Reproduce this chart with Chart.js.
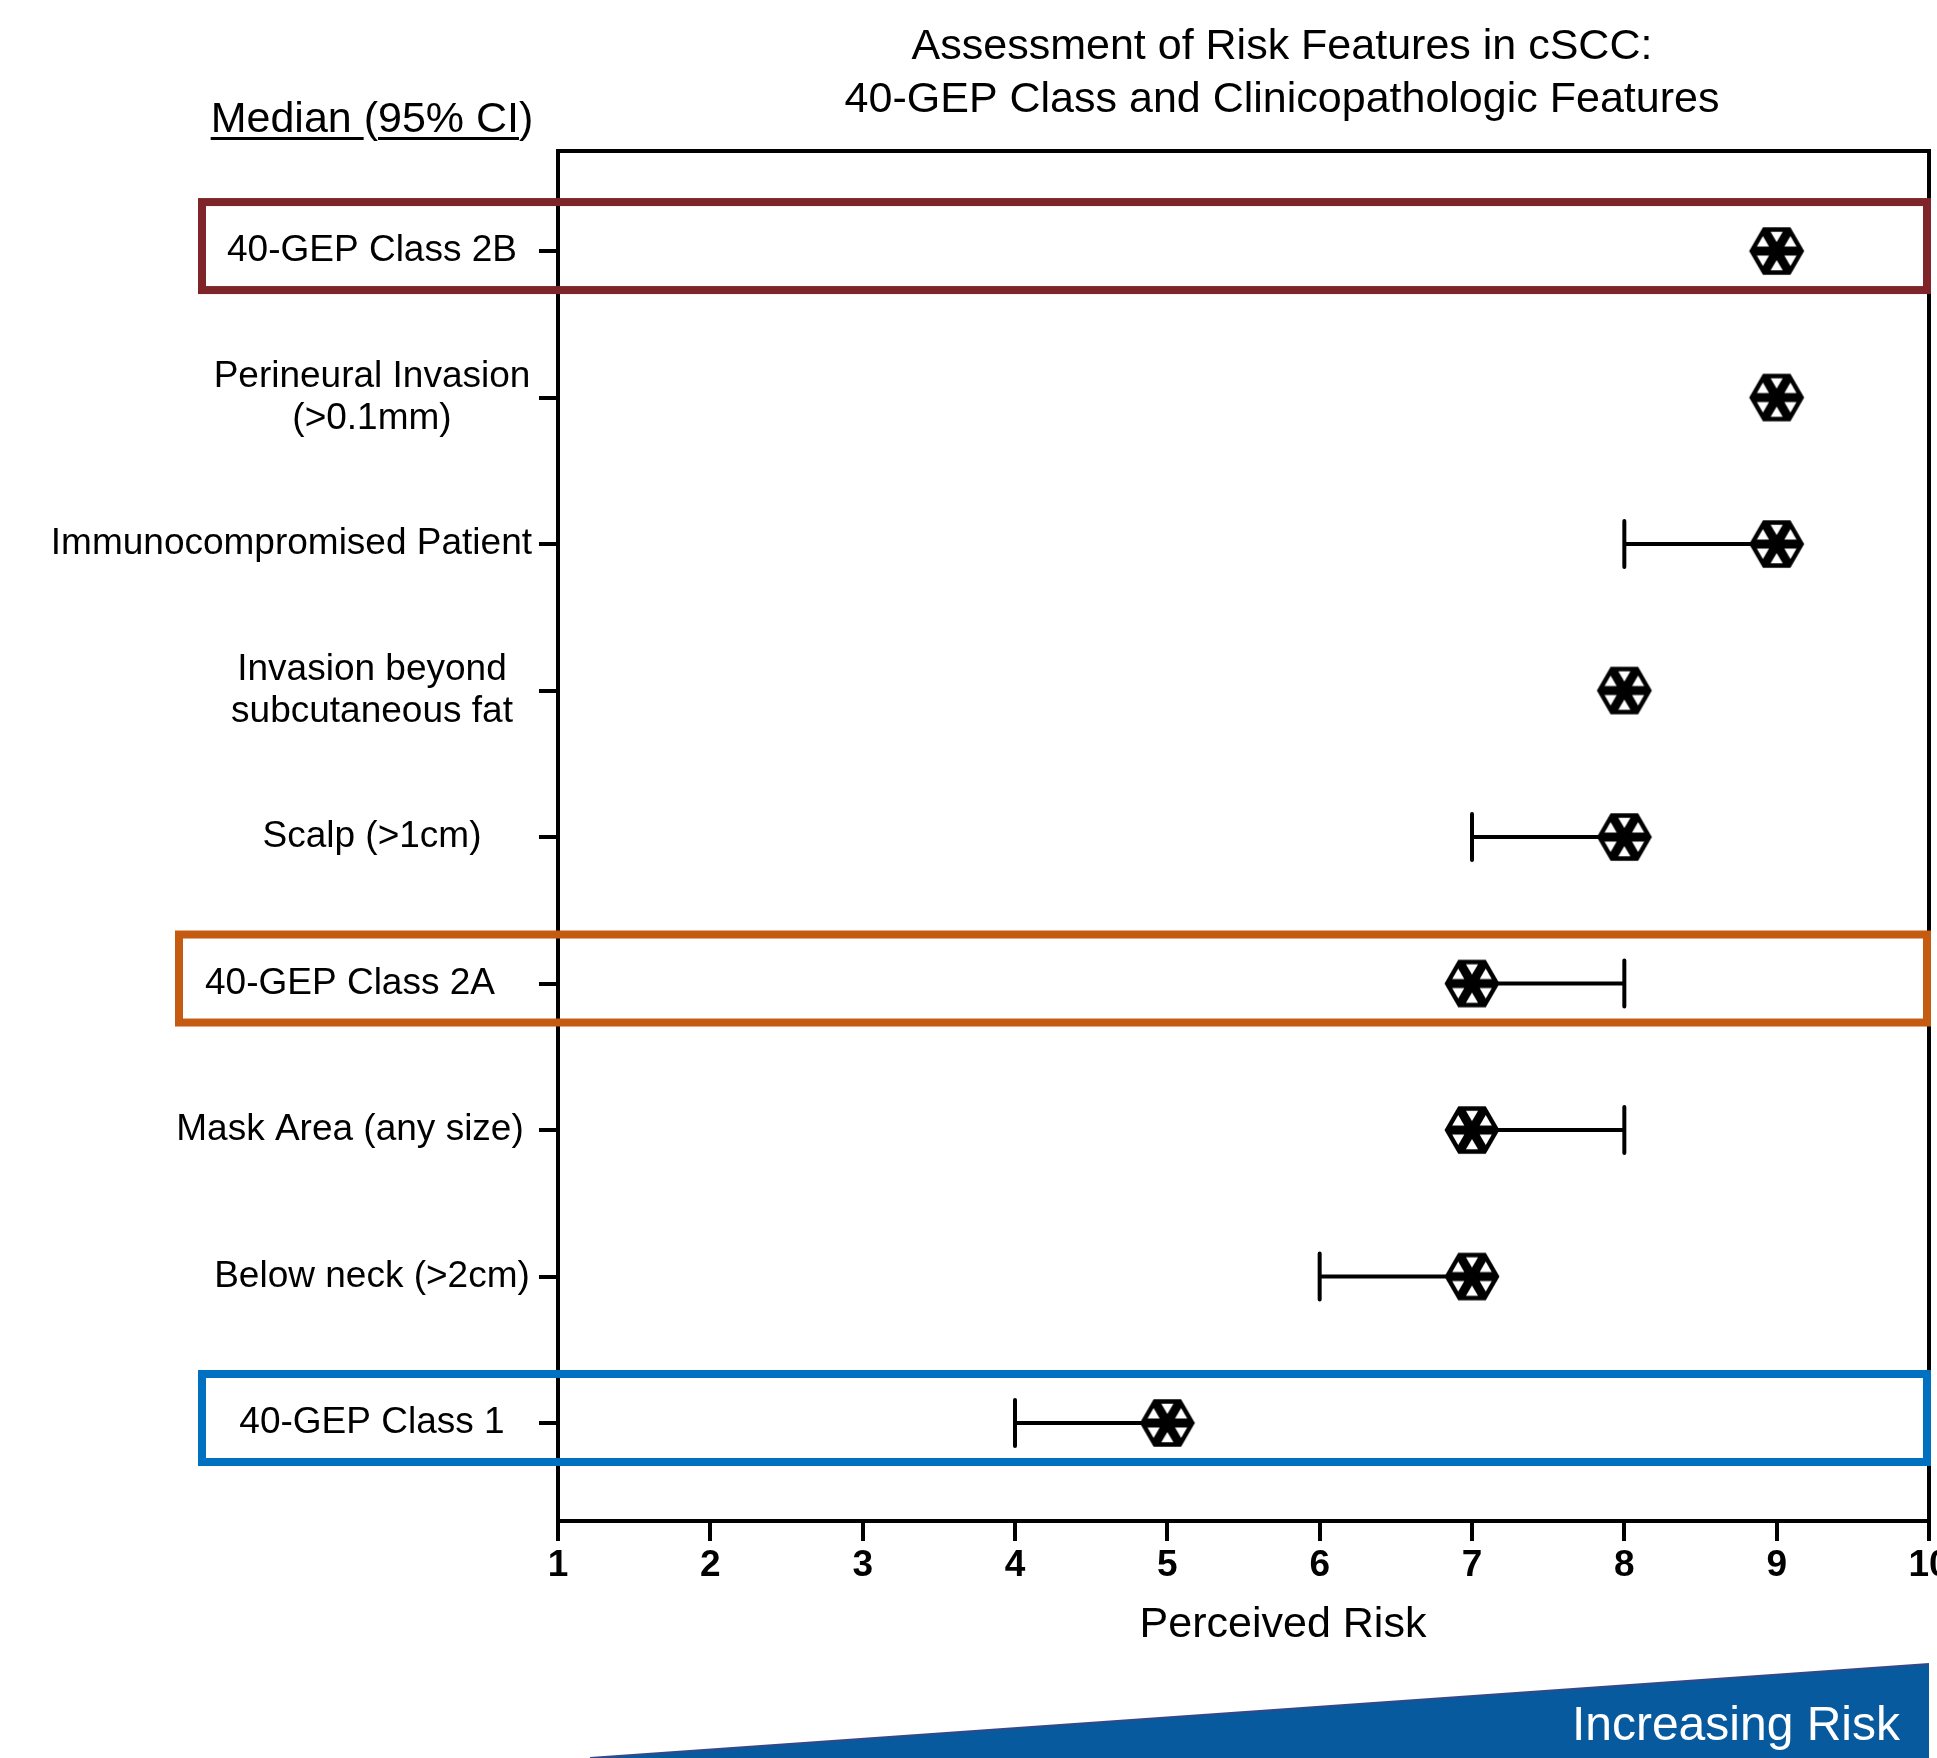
<!DOCTYPE html>
<html lang="en">
<head>
  <meta charset="UTF-8">
  <title>Assessment of Risk Features in cSCC</title>
  <script src="https://cdn.jsdelivr.net/npm/chart.js"></script>
  <style>
    html, body { margin: 0; padding: 0; background: #fff; }
    #chart-container { width: 1937px; height: 1758px; }
  </style>
</head>
<body>
  <div id="chart-container">
    <canvas id="riskChart" width="1937" height="1758"></canvas>
  </div>

  <script>
  // Rows, top to bottom
  const features = [
    ['40-GEP Class 2B'],
    ['Perineural Invasion', '(>0.1mm)'],
    ['Immunocompromised Patient'],
    ['Invasion beyond', 'subcutaneous fat'],
    ['Scalp (>1cm)'],
    ['40-GEP Class 2A'],
    ['Mask Area (any size)'],
    ['Below neck (>2cm)'],
    ['40-GEP Class 1']
  ];
  const medians = [9, 9, 9, 8, 8, 7, 7, 7, 5];
  const ciLow   = [9, 9, 8, 8, 7, 7, 7, 6, 4];
  const ciHigh  = [9, 9, 9, 8, 8, 8, 8, 7, 5];
  const xTicks  = [1, 2, 3, 4, 5, 6, 7, 8, 9, 10];

  const FONT = '"Liberation Sans", Arial, Helvetica, sans-serif';

  // highlight boxes around the 40-GEP rows
  const boxes = [
    { row: 0, color: '#7f2529', left: 202 },
    { row: 5, color: '#c55a11', left: 179 },
    { row: 8, color: '#0070c0', left: 202 }
  ];
  // a couple of labels sit a bit left of the common centre line
  const labelCenterOverride = { 5: 350, 6: 350 };

  // hexagon with asterisk marker (GraphPad style)
  function makeMarker() {
    const c = document.createElement('canvas');
    c.width = 60; c.height = 52;
    const g = c.getContext('2d');
    const cx = 30, cy = 26, r = 27.5;
    const v = [];
    for (let k = 0; k < 6; k++) {
      const a = k * Math.PI / 3;
      v.push([cx + r * Math.cos(a), cy - r * Math.sin(a)]);
    }
    g.fillStyle = '#000';
    g.beginPath();
    v.forEach((p, i) => i ? g.lineTo(p[0], p[1]) : g.moveTo(p[0], p[1]));
    g.closePath();
    g.fill();
    // little white triangles in each sector
    g.fillStyle = '#fff';
    const s = 0.44;
    for (let k = 0; k < 6; k++) {
      const a = [cx, cy], b = v[k], d = v[(k + 1) % 6];
      const mx = (a[0] + b[0] + d[0]) / 3, my = (a[1] + b[1] + d[1]) / 3;
      g.beginPath();
      [a, b, d].forEach((p, i) => {
        const px = mx + s * (p[0] - mx), py = my + s * (p[1] - my);
        i ? g.lineTo(px, py) : g.moveTo(px, py);
      });
      g.closePath();
      g.fill();
    }
    return c;
  }

  const errorBars = {
    id: 'errorBars',
    beforeDatasetsDraw(chart) {
      const { ctx, scales: { x, y } } = chart;
      ctx.save();
      ctx.strokeStyle = '#000';
      ctx.lineWidth = 4;
      ctx.lineCap = 'round';
      medians.forEach((m, i) => {
        const py = y.getPixelForValue(i);
        [ciLow[i], ciHigh[i]].forEach(end => {
          if (end === m) return;
          const px = x.getPixelForValue(end);
          ctx.beginPath();
          ctx.moveTo(x.getPixelForValue(m), py);
          ctx.lineTo(px, py);
          ctx.moveTo(px, py - 23);
          ctx.lineTo(px, py + 23);
          ctx.stroke();
        });
      });
      ctx.restore();
    }
  };

  const decorations = {
    id: 'decorations',
    beforeDatasetsDraw(chart) {
      // top and right frame
      const { ctx, chartArea: a } = chart;
      ctx.save();
      ctx.strokeStyle = '#000';
      ctx.lineWidth = 4;
      ctx.beginPath();
      ctx.moveTo(a.left - 2, a.top);
      ctx.lineTo(a.right, a.top);
      ctx.lineTo(a.right, a.bottom);
      ctx.stroke();
      ctx.restore();
    },
    afterDraw(chart) {
      const { ctx, chartArea: a, scales: { y } } = chart;
      ctx.save();
      ctx.fillStyle = '#000';
      ctx.textAlign = 'center';
      ctx.textBaseline = 'middle';

      // title
      ctx.font = '43px ' + FONT;
      ctx.fillText('Assessment of Risk Features in cSCC:', 1282, 47);
      ctx.fillText('40-GEP Class and Clinicopathologic Features', 1282, 100);

      // axis title
      ctx.fillText('Perceived Risk', 1283, 1625);

      // column header, underlined except the brackets
      const hx = 372, hy = 120;
      const full = 'Median (95% CI)';
      const wFull = ctx.measureText(full).width;
      const x0 = hx - wFull / 2;
      ctx.fillText(full, hx, hy);
      const seg = (from, to) => {
        const s0 = x0 + ctx.measureText(full.slice(0, from)).width;
        const s1 = x0 + ctx.measureText(full.slice(0, to)).width;
        ctx.fillRect(s0, hy + 17, s1 - s0, 3);
      };
      seg(0, 7);
      seg(8, 14);

      // row labels
      ctx.font = '37px ' + FONT;
      const maxRight = a.left - 26;
      features.forEach((lines, i) => {
        const py = y.getPixelForValue(i);
        const w = Math.max(...lines.map(t => ctx.measureText(t).width));
        const base = labelCenterOverride[i] !== undefined ? labelCenterOverride[i] : 372;
        const cx = Math.min(base, maxRight - w / 2);
        lines.forEach((t, j) => {
          ctx.fillText(t, cx, py + (j - (lines.length - 1) / 2) * 42);
        });
      });

      // highlight boxes
      ctx.lineWidth = 8;
      boxes.forEach(b => {
        const py = y.getPixelForValue(b.row);
        ctx.strokeStyle = b.color;
        ctx.strokeRect(b.left, py - 49, 1927 - b.left, 88);
      });

      // increasing risk wedge
      ctx.fillStyle = '#075a9d';
      ctx.beginPath();
      ctx.moveTo(590, 1758);
      ctx.lineTo(1929, 1664);
      ctx.lineTo(1929, 1758);
      ctx.closePath();
      ctx.fill();
      ctx.strokeStyle = '#34498a';
      ctx.lineWidth = 2;
      ctx.beginPath();
      ctx.moveTo(590, 1758);
      ctx.lineTo(1929, 1664);
      ctx.stroke();
      ctx.fillStyle = '#fff';
      ctx.font = '48px ' + FONT;
      ctx.textAlign = 'right';
      ctx.fillText('Increasing Risk', 1900, 1727);
      ctx.restore();
    }
  };

  const marker = makeMarker();

  const chart = new Chart(document.getElementById('riskChart'), {
    type: 'scatter',
    data: {
      datasets: [{
        label: 'Median',
        data: medians.map((m, i) => ({ x: m, y: i })),
        pointStyle: marker,
        pointRadius: 1,
        pointBorderWidth: 0,
        showLine: false
      }]
    },
    options: {
      responsive: false,
      animation: false,
      layout: { padding: { top: 151, left: 538, right: 8, bottom: 0 } },
      plugins: {
        legend: { display: false },
        tooltip: { enabled: false },
        title: { display: false }
      },
      scales: {
        x: {
          type: 'linear',
          position: 'bottom',
          min: 1,
          max: 10,
          afterBuildTicks: s => { s.ticks = xTicks.map(v => ({ value: v })); },
          afterFit: s => { s.height = 237; s.paddingLeft = 0; s.paddingRight = 0; },
          ticks: {
            color: '#000',
            font: { family: FONT, size: 37, weight: 'bold' },
            padding: 3,
            maxRotation: 0,
            autoSkip: false
          },
          grid: {
            drawOnChartArea: false,
            drawTicks: true,
            tickLength: 20,
            lineWidth: 4,
            color: '#000'
          },
          border: { display: true, color: '#000', width: 4 }
        },
        y: {
          type: 'linear',
          reverse: true,
          min: -0.683,
          max: 8.669,
          afterBuildTicks: s => { s.ticks = features.map((_, i) => ({ value: i })); },
          afterFit: s => { s.width = 20; s.paddingTop = 0; s.paddingBottom = 0; },
          ticks: { display: false },
          grid: {
            drawOnChartArea: false,
            drawTicks: true,
            tickLength: 19,
            lineWidth: 4,
            color: '#000'
          },
          border: { display: true, color: '#000', width: 4 }
        }
      }
    },
    plugins: [errorBars, decorations]
  });
  </script>
</body>
</html>
